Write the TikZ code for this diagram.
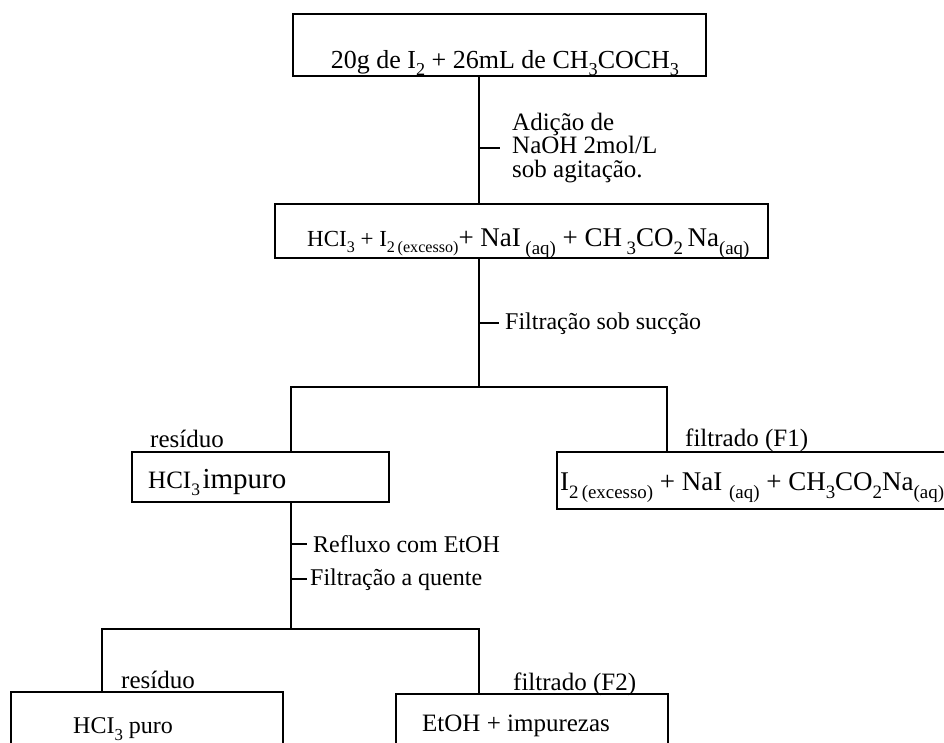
\documentclass[tikz,border=0pt]{standalone}
\usepackage{fontspec}
\setmainfont{Liberation Serif}
\usepackage{graphicx}
\usetikzlibrary{calc}
\tikzstyle{caixa}=[draw,line width=1.9pt,inner sep=0pt]
\tikzstyle{texto}=[inner sep=0pt,anchor=base west]
\tikzstyle{linha}=[line width=1.7pt]
\newcommand{\tam}[1]{\fontsize{#1}{#1}\selectfont}
\newcommand{\ind}[1]{\raisebox{-0.3em}{\scalebox{0.7}{#1}}}

\begin{document}
\begin{tikzpicture}[x=1pt,y=-1pt]
\clip (0,0) rectangle (944,742);

% caixas
\node[caixa,minimum width=413,minimum height=62] (B1) at (499.5,45) {};
\node[caixa,minimum width=493,minimum height=54] (B2) at (521.5,231) {};
\node[caixa,minimum width=257,minimum height=50] (B3) at (260.5,477) {};
\node[caixa,minimum width=400,minimum height=57] (B4) at (757,480.5) {};
\node[caixa,minimum width=272,minimum height=80] (B5) at (147,732) {};
\node[caixa,minimum width=272,minimum height=80] (B6) at (532,734) {};

% textos das caixas
\node[texto,anchor=base,font=\tam{26}] (T1) at (505,68) {20g de I\ind{2} + 26mL de CH\ind{3}COCH\ind{3}};
\node[texto] (T2) at (307,246) {{\tam{23}HCI\ind{3} + I\ind{2\,(excesso)}}{\tam{27}+ NaI\,\ind{(aq)} + CH\,\ind{3}CO\ind{2}\,Na\ind{(aq)}}};
\node[texto] (T3) at (148,488) {{\tam{25}HCI\ind{3}} {\tam{29}impuro}};
\node[texto,font=\tam{27}] (T4) at (560,490) {I\ind{2\,(excesso)} + NaI \ind{(aq)} + CH\ind{3}CO\ind{2}Na\ind{(aq)}};
\node[texto,font=\tam{24}] (T5) at (73,733) {HCI\ind{3} puro};
\node[texto,font=\tam{25}] (T6) at (422,731) {EtOH + impurezas};

% rotulos
\node[texto,anchor=west,align=left,font={\fontsize{25}{23.5}\selectfont}] (L1) at (512,148) {Adição de\\NaOH 2mol/L\\sob agitação.};
\node[texto,font=\tam{24}] (L2) at (505,329) {Filtração sob sucção};
\node[texto,font=\tam{24}] (L3) at (313,552) {Refluxo com EtOH};
\node[texto,font=\tam{24}] (L4) at (310,585) {Filtração a quente};
\node[texto,font=\tam{25}] (R1) at (150,447) {resíduo};
\node[texto,font=\tam{25}] (F1) at (685,446) {filtrado (F1)};
\node[texto,font=\tam{25}] (R2) at (121,688) {resíduo};
\node[texto,font=\tam{25}] (F2) at (513,690) {filtrado (F2)};

\coordinate (J1) at (479,387);
\coordinate (E1) at (291,387);
\coordinate (D1) at (667,387);
\coordinate (J2) at (291,629);
\coordinate (E2) at (102,629);
\coordinate (D2) at (479,629);

% ligacoes
\draw[linha] (B1.south -| J1) -- (B2.north -| J1);
\draw[linha] (B2.south -| J1) -- (J1);
\draw[linha] (B3.north -| E1) -- (E1) -- (D1) -- (B4.north -| D1);
\draw[linha] (B3.south -| J2) -- (J2);
\draw[linha] (B5.north -| E2) -- (E2) -- (D2) -- (B6.north -| D2);

\draw[linha] (L1.west -| J1) -- ([xshift=-12]L1.west);
\draw[linha] (L2.west -| J1) -- ([xshift=-6]L2.west);
\draw[linha] (L3.west -| J2) -- ([xshift=-6]L3.west);
\draw[linha] (L4.west -| J2) -- ([xshift=-3]L4.west);

\end{tikzpicture}
\end{document}
